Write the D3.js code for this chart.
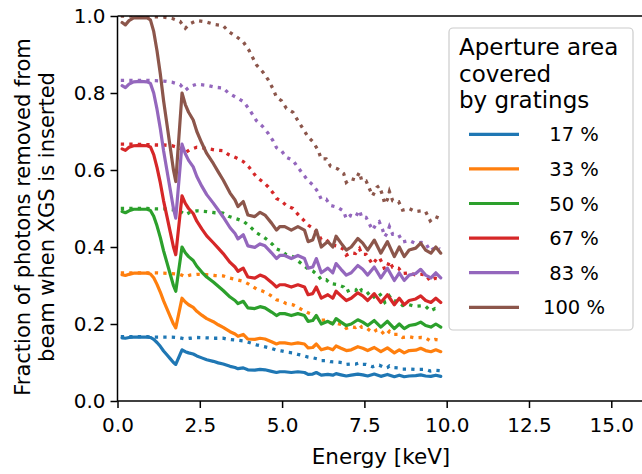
<!DOCTYPE html>
<html>
<head>
<meta charset="utf-8">
<script src="https://cdn.jsdelivr.net/npm/d3@7"></script>
<style>
  body { margin: 0; background: #fff; }
  svg { display: block; font-family: "DejaVu Sans", sans-serif; }
</style>
</head>
<body>
<svg id="chart" width="642" height="474"></svg>
<script>

// measured curves (solid), one per aperture coverage
var energy = [0.14,0.24,0.35,0.49,0.70,0.90,1.00,1.10,1.20,1.30,1.40,1.50,1.60,1.70,1.77,1.96,2.06,2.16,2.30,2.41,
  2.56,2.71,2.91,3.06,3.21,3.42,3.57,3.66,3.82,3.96,4.17,4.33,4.48,4.68,4.83,4.93,5.08,5.28,5.48,5.68,
  5.79,5.93,6.04,6.19,6.39,6.54,6.64,6.79,6.95,7.10,7.30,7.45,7.60,7.80,8.00,8.20,8.41,8.56,8.71,8.86,
  9.06,9.21,9.36,9.52,9.67,9.82];

var removed17 = [0.164,0.163,0.165,0.166,0.166,0.166,0.165,0.160,0.152,0.142,0.130,0.120,0.110,0.100,0.095,0.133,0.128,0.125,0.122,0.117,
  0.112,0.107,0.103,0.099,0.096,0.090,0.087,0.084,0.086,0.081,0.080,0.082,0.081,0.077,0.074,0.076,0.076,0.074,0.076,0.074,
  0.069,0.070,0.074,0.067,0.069,0.067,0.071,0.068,0.065,0.067,0.070,0.068,0.065,0.070,0.064,0.069,0.063,0.067,0.063,0.065,
  0.066,0.068,0.065,0.064,0.067,0.064];
var removed33 = [0.328,0.326,0.329,0.332,0.332,0.332,0.330,0.320,0.303,0.283,0.260,0.240,0.220,0.200,0.190,0.267,0.257,0.250,0.243,0.233,
  0.223,0.214,0.206,0.198,0.191,0.180,0.174,0.168,0.173,0.161,0.160,0.163,0.161,0.154,0.148,0.151,0.151,0.148,0.151,0.148,
  0.138,0.139,0.148,0.133,0.138,0.133,0.143,0.137,0.131,0.133,0.141,0.137,0.131,0.139,0.128,0.138,0.125,0.133,0.125,0.131,
  0.132,0.137,0.131,0.128,0.133,0.128];
var removed50 = [0.492,0.489,0.494,0.498,0.498,0.498,0.495,0.480,0.455,0.425,0.390,0.360,0.330,0.300,0.285,0.400,0.385,0.375,0.365,0.350,
  0.335,0.322,0.309,0.298,0.287,0.270,0.261,0.253,0.259,0.242,0.240,0.245,0.242,0.231,0.222,0.227,0.227,0.222,0.227,0.222,
  0.207,0.209,0.222,0.200,0.207,0.200,0.214,0.205,0.196,0.200,0.211,0.205,0.196,0.209,0.192,0.207,0.188,0.200,0.188,0.196,
  0.199,0.205,0.196,0.192,0.200,0.192];
var removed67 = [0.655,0.651,0.659,0.663,0.664,0.663,0.660,0.640,0.607,0.567,0.520,0.480,0.440,0.400,0.380,0.533,0.513,0.500,0.487,0.467,
  0.447,0.429,0.411,0.397,0.383,0.360,0.348,0.337,0.345,0.322,0.319,0.327,0.322,0.308,0.296,0.302,0.302,0.296,0.302,0.296,
  0.276,0.279,0.296,0.267,0.276,0.267,0.285,0.273,0.261,0.267,0.281,0.273,0.261,0.279,0.256,0.276,0.250,0.267,0.250,0.261,
  0.265,0.273,0.261,0.256,0.267,0.256];
var removed83 = [0.819,0.814,0.823,0.829,0.830,0.829,0.825,0.800,0.758,0.708,0.650,0.600,0.550,0.500,0.475,0.667,0.642,0.625,0.608,0.583,
  0.558,0.536,0.514,0.496,0.478,0.450,0.435,0.421,0.432,0.403,0.399,0.408,0.403,0.385,0.370,0.378,0.378,0.370,0.378,0.370,
  0.345,0.348,0.370,0.333,0.345,0.333,0.357,0.342,0.327,0.333,0.352,0.342,0.327,0.348,0.320,0.345,0.313,0.333,0.313,0.327,
  0.331,0.342,0.327,0.320,0.333,0.320];
var removed100 = [0.983,0.977,0.988,0.995,0.996,0.995,0.990,0.960,0.910,0.850,0.780,0.720,0.660,0.600,0.570,0.800,0.770,0.750,0.730,0.700,
  0.670,0.643,0.617,0.595,0.574,0.540,0.522,0.505,0.518,0.483,0.479,0.490,0.483,0.462,0.444,0.453,0.453,0.444,0.453,0.444,
  0.414,0.418,0.444,0.400,0.414,0.400,0.428,0.410,0.392,0.400,0.422,0.410,0.392,0.418,0.384,0.414,0.375,0.400,0.375,0.392,
  0.397,0.410,0.392,0.384,0.400,0.384];

// expected curves (dotted)
var energyDotted = [0.10,0.50,0.90,1.15,1.40,1.65,1.90,2.06,2.20,2.41,2.71,2.96,3.21,3.37,3.62,3.82,4.00,4.22,4.42,4.58,
  4.73,4.83,4.98,5.13,5.33,5.48,5.63,5.79,5.94,6.09,6.19,6.34,6.47,6.69,6.87,6.95,7.08,7.23,7.35,7.42,
  7.55,7.65,7.75,7.88,7.95,8.05,8.12,8.20,8.26,8.36,8.54,8.66,8.86,9.04,9.23,9.36,9.50,9.65,9.80];

var expected17 = [0.167,0.167,0.167,0.166,0.166,0.166,0.164,0.161,0.163,0.165,0.164,0.163,0.163,0.160,0.158,0.156,0.152,0.146,0.142,0.139,
  0.135,0.132,0.130,0.127,0.125,0.121,0.118,0.114,0.112,0.109,0.105,0.105,0.102,0.101,0.099,0.095,0.096,0.096,0.099,0.095,
  0.095,0.092,0.089,0.093,0.093,0.089,0.085,0.087,0.091,0.087,0.086,0.083,0.083,0.082,0.082,0.082,0.078,0.080,0.079];
var expected33 = [0.333,0.333,0.333,0.333,0.332,0.331,0.329,0.323,0.327,0.329,0.328,0.326,0.325,0.320,0.315,0.311,0.303,0.291,0.285,0.278,
  0.270,0.263,0.260,0.253,0.250,0.243,0.236,0.229,0.224,0.217,0.210,0.210,0.203,0.201,0.197,0.189,0.193,0.191,0.198,0.191,
  0.191,0.184,0.178,0.185,0.186,0.178,0.171,0.175,0.181,0.173,0.173,0.165,0.167,0.164,0.165,0.164,0.156,0.160,0.158];
var expected50 = [0.500,0.500,0.500,0.499,0.499,0.497,0.493,0.484,0.490,0.494,0.492,0.489,0.488,0.480,0.473,0.467,0.455,0.437,0.427,0.417,
  0.405,0.395,0.390,0.380,0.375,0.364,0.354,0.343,0.337,0.326,0.315,0.315,0.305,0.302,0.296,0.284,0.289,0.287,0.297,0.286,
  0.286,0.276,0.267,0.278,0.280,0.268,0.256,0.262,0.272,0.260,0.259,0.248,0.250,0.246,0.247,0.246,0.234,0.240,0.237];
var expected67 = [0.667,0.667,0.666,0.665,0.665,0.663,0.657,0.645,0.653,0.659,0.656,0.652,0.650,0.640,0.631,0.622,0.607,0.582,0.569,0.556,
  0.540,0.526,0.520,0.507,0.500,0.485,0.472,0.457,0.449,0.435,0.419,0.419,0.407,0.402,0.394,0.379,0.385,0.383,0.396,0.381,
  0.381,0.368,0.355,0.370,0.373,0.357,0.341,0.349,0.363,0.347,0.345,0.331,0.333,0.328,0.329,0.328,0.312,0.319,0.316];
var expected83 = [0.833,0.833,0.833,0.832,0.831,0.828,0.822,0.807,0.817,0.823,0.820,0.815,0.813,0.800,0.788,0.778,0.758,0.728,0.712,0.695,
  0.675,0.658,0.650,0.633,0.625,0.607,0.590,0.572,0.561,0.543,0.524,0.524,0.508,0.503,0.493,0.473,0.482,0.478,0.495,0.477,
  0.477,0.460,0.444,0.463,0.466,0.446,0.427,0.437,0.453,0.433,0.432,0.413,0.417,0.410,0.412,0.410,0.390,0.399,0.395];
var expected100 = [1.000,1.000,0.999,0.998,0.997,0.994,0.986,0.968,0.980,0.988,0.984,0.978,0.975,0.960,0.946,0.933,0.910,0.873,0.854,0.834,
  0.810,0.789,0.780,0.760,0.750,0.728,0.708,0.686,0.673,0.652,0.629,0.629,0.610,0.603,0.591,0.568,0.578,0.574,0.594,0.572,
  0.572,0.552,0.533,0.555,0.559,0.535,0.512,0.524,0.544,0.520,0.518,0.496,0.500,0.492,0.494,0.492,0.468,0.479,0.474];

var coverageLabels = ['17 %', '33 %', '50 %', '67 %', '83 %', '100 %'];
var colors = ['#1f77b4', '#ff7f0e', '#2ca02c', '#d62728', '#9467bd', '#8c564b'];
var xTicks = [0, 2.5, 5, 7.5, 10, 12.5, 15];
var yTicks = [0, 0.2, 0.4, 0.6, 0.8, 1.0];

var solidSeries = [removed17, removed33, removed50, removed67, removed83, removed100];
var dottedSeries = [expected17, expected33, expected50, expected67, expected83, expected100];

var svg = d3.select('#chart');
var margin = { top: 16, left: 117.5 };
var innerWidth = 526.7;
var innerHeight = 385;

var x = d3.scaleLinear().domain([0, 16]).range([0, innerWidth]);
var y = d3.scaleLinear().domain([0, 1]).range([innerHeight, 0]);

var g = svg.append('g').attr('transform', `translate(${margin.left},${margin.top})`);

g.append('clipPath').attr('id', 'plot-clip')
  .append('rect').attr('width', innerWidth).attr('height', innerHeight);

var plot = g.append('g').attr('clip-path', 'url(#plot-clip)');

var line = d3.line().x(d => x(d[0])).y(d => y(d[1]));

// solid measured line, then the dotted expected line, for each coverage
solidSeries.forEach(function(vals, i) {
  plot.append('path')
    .datum(energy.map((e, j) => [e, vals[j]]))
    .attr('d', line)
    .attr('fill', 'none')
    .attr('stroke', colors[i])
    .attr('stroke-width', 3.2)
    .attr('stroke-linejoin', 'round')
    .attr('stroke-linecap', 'round');

  plot.append('path')
    .datum(energyDotted.map((e, j) => [e, dottedSeries[i][j]]))
    .attr('d', line)
    .attr('fill', 'none')
    .attr('stroke', colors[i])
    .attr('stroke-width', 3.3)
    .attr('stroke-dasharray', '3.3,5.2');
});

// axes
var fmt = d3.format('.1f');
var xAxis = g.append('g')
  .attr('transform', `translate(0,${innerHeight})`)
  .call(d3.axisBottom(x).tickValues(xTicks).tickFormat(fmt).tickSize(7).tickPadding(10));
var yAxis = g.append('g')
  .call(d3.axisLeft(y).tickValues(yTicks).tickFormat(fmt).tickSize(7).tickPadding(5));

[xAxis, yAxis].forEach(function(a) {
  a.attr('font-size', 20).attr('font-family', '"DejaVu Sans", sans-serif');
  a.selectAll('.domain').remove();
  a.selectAll('.tick line').attr('stroke', '#000').attr('stroke-width', 1.5);
  a.selectAll('.tick text').attr('fill', '#000');
});

// spines
g.append('line').attr('x1', 0).attr('x2', 0).attr('y1', 0).attr('y2', innerHeight)
  .attr('stroke', '#000').attr('stroke-width', 1.5);
g.append('line').attr('x1', 0).attr('x2', innerWidth).attr('y1', innerHeight).attr('y2', innerHeight)
  .attr('stroke', '#000').attr('stroke-width', 1.5);
g.append('line').attr('x1', 0).attr('x2', innerWidth).attr('y1', 0).attr('y2', 0)
  .attr('stroke', '#000').attr('stroke-width', 1.5);

// axis labels
svg.append('text')
  .attr('x', 381).attr('y', 464)
  .attr('text-anchor', 'middle')
  .attr('font-size', 21.5)
  .text('Energy [keV]');

var ylab = svg.append('text')
  .attr('transform', 'translate(30,217) rotate(-90)')
  .attr('text-anchor', 'middle')
  .attr('font-size', 21);
ylab.append('tspan').attr('x', 0).attr('y', 0).text('Fraction of photons removed from');
ylab.append('tspan').attr('x', 0).attr('y', 24).text('beam when XGS is inserted');

// legend
var lg = svg.append('g');
lg.append('rect')
  .attr('x', 449).attr('y', 28).attr('width', 184).attr('height', 302)
  .attr('rx', 4)
  .attr('fill', 'white').attr('fill-opacity', 0.8)
  .attr('stroke', '#cccccc').attr('stroke-width', 1.2);

['Aperture area', 'covered', 'by gratings'].forEach(function(t, i) {
  lg.append('text')
    .attr('x', 459).attr('y', 55 + i * 26.5)
    .attr('font-size', 23)
    .text(t);
});

coverageLabels.forEach(function(lab, i) {
  var yy = 134.3 + i * 34.6;
  lg.append('line')
    .attr('x1', 469).attr('x2', 519).attr('y1', yy).attr('y2', yy)
    .attr('stroke', colors[i]).attr('stroke-width', 3.2);
  lg.append('text')
    .attr('x', 574).attr('y', yy + 7)
    .attr('text-anchor', 'middle')
    .attr('font-size', 19.5)
    .text(lab);
});

</script>
</body>
</html>
